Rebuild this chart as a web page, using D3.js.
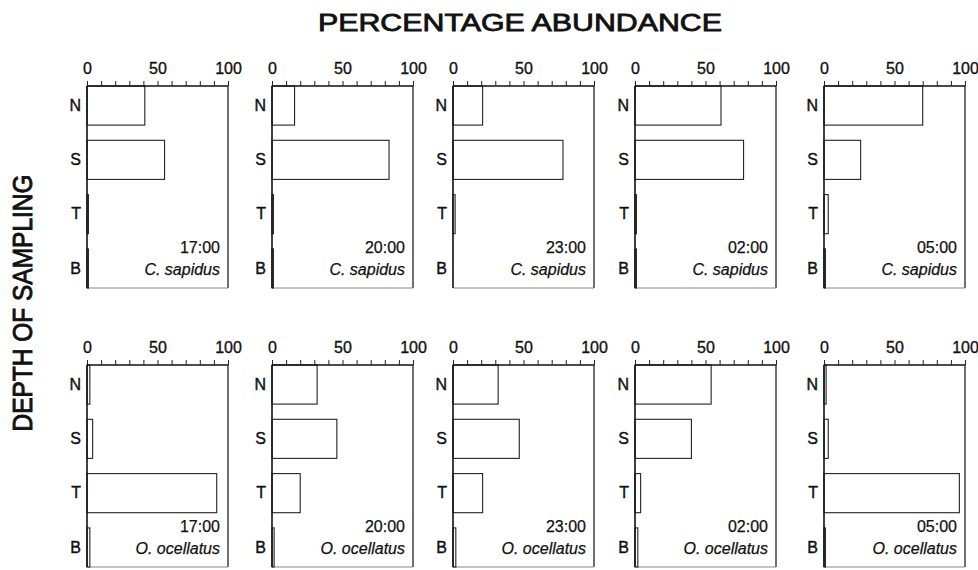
<!DOCTYPE html>
<html>
<head>
<meta charset="utf-8">
<script src="https://cdn.jsdelivr.net/npm/d3@7"></script>
<style>
  body { margin: 0; background: #fff; }
  text { font-family: "Liberation Sans", Arial, sans-serif; fill: #111; }
</style>
</head>
<body>
<script>
// data
var times = ["17:00", "20:00", "23:00", "02:00", "05:00"];
var depths = ["N", "S", "T", "B"];
var species = ["C. sapidus", "O. ocellatus"];
var tickValues = [0, 50, 100];

// percentage abundance per time, in depth order N, S, T, B
var sapidus = [
  [41, 55, 1, 1],
  [16, 83, 1, 1],
  [21, 78, 1.5, 0],
  [61, 77, 1, 1],
  [70, 26, 3, 1]
];
var ocellatus = [
  [2, 4, 92, 2],
  [32, 46, 20, 1.5],
  [32, 47, 21, 2],
  [54, 40, 4, 2],
  [1.5, 3, 96, 1]
];

var width = 978, height = 570;
var panelLeft = [87, 272, 453, 635, 824];
var panelW = 141, panelH = 202;
var rowTop = [86, 365];

var svg = d3.select("body")
  .append("svg").attr("width", width).attr("height", height);

// titles
svg.append("text")
  .attr("x", 520).attr("y", 31)
  .attr("text-anchor", "middle")
  .attr("textLength", 404).attr("lengthAdjust", "spacingAndGlyphs")
  .style("font-size", "24px")
  .style("stroke", "#111").style("stroke-width", 0.8)
  .text("PERCENTAGE ABUNDANCE");

svg.append("text")
  .attr("transform", "translate(32,303) rotate(-90)")
  .attr("text-anchor", "middle")
  .attr("textLength", 257).attr("lengthAdjust", "spacingAndGlyphs")
  .style("font-size", "27px")
  .style("stroke", "#111").style("stroke-width", 0.9)
  .text("DEPTH OF SAMPLING");

var x = d3.scaleLinear().domain([0, 100]).range([0, panelW]);
var y = d3.scaleBand().domain(depths).range([0, panelH])
  .paddingInner(0.28).paddingOuter(0);

[sapidus, ocellatus].forEach(function(rows, r) {
  rows.forEach(function(vals, i) {
    var g = svg.append("g")
      .attr("transform", "translate(" + panelLeft[i] + "," + rowTop[r] + ")");

    // right and bottom frame
    g.append("line").attr("x1", panelW).attr("x2", panelW)
      .attr("y1", 0).attr("y2", panelH)
      .style("stroke", "#222").style("stroke-width", 1.3);
    g.append("line").attr("x1", 0).attr("x2", panelW)
      .attr("y1", panelH).attr("y2", panelH)
      .style("stroke", "#888").style("stroke-width", 1);

    // bars
    g.selectAll("rect.bar")
      .data(vals)
      .enter().append("rect")
      .attr("class", "bar")
      .attr("x", 0)
      .attr("y", function(d, k) { return y(depths[k]); })
      .attr("width", function(d) { return x(d); })
      .attr("height", y.bandwidth())
      .style("fill", "#fff")
      .style("stroke", "#222")
      .style("stroke-width", 1.1);

    // top axis
    var xa = g.append("g")
      .call(d3.axisTop(x).ticks(10).tickSize(5).tickFormat(function(d) {
        return tickValues.indexOf(d) >= 0 ? d : "";
      }));
    xa.select(".domain").attr("d", "M0,0H" + panelW)
      .style("stroke", "#111").style("stroke-width", 1.4);
    xa.selectAll(".tick line").style("stroke", "#222");
    xa.selectAll(".tick text")
      .attr("y", -12)
      .style("font-size", "16px")
      .style("font-family", "Liberation Sans, Arial, sans-serif")
      .style("fill", "#111")
      .style("stroke", "#111").style("stroke-width", 0.35);

    // left axis
    var ya = g.append("g").call(d3.axisLeft(y).tickSize(0).tickPadding(6));
    ya.select(".domain").attr("d", "M0,0V" + panelH)
      .style("stroke", "#111").style("stroke-width", 1.6);
    ya.selectAll(".tick text")
      .style("font-size", "16px")
      .style("font-family", "Liberation Sans, Arial, sans-serif")
      .style("fill", "#111")
      .style("stroke", "#111").style("stroke-width", 0.4);

    // labels
    g.append("text")
      .attr("x", panelW - 8).attr("y", panelH - 35)
      .attr("text-anchor", "end")
      .style("font-size", "16px")
      .style("stroke", "#111").style("stroke-width", 0.25)
      .text(times[i]);
    g.append("text")
      .attr("x", panelW - 8).attr("y", panelH - 13)
      .attr("text-anchor", "end")
      .style("font-size", "16px")
      .style("font-style", "italic")
      .style("stroke", "#111").style("stroke-width", 0.25)
      .text(species[r]);
  });
});
</script>
</body>
</html>
